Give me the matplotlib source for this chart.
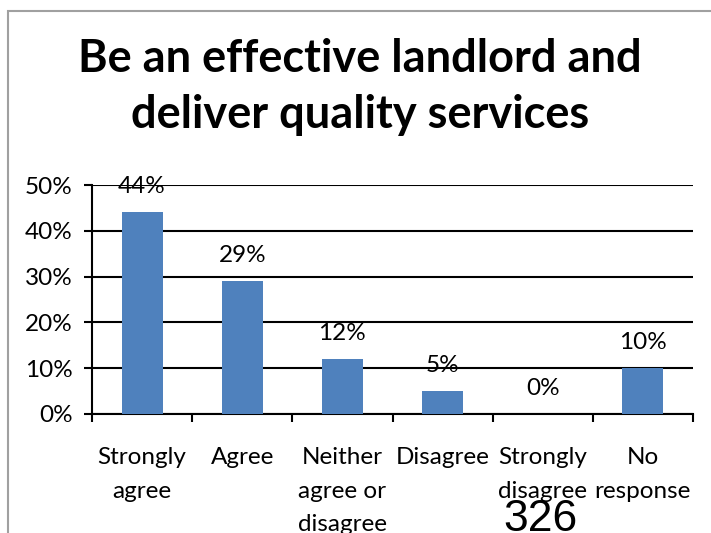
import numpy as np
import matplotlib.pyplot as plt
from matplotlib.patches import Rectangle

# survey responses
categories = ["Strongly\nagree", "Agree", "Neither\nagree or\ndisagree", "Disagree",
              "Strongly\ndisagree", "No\nresponse"]
values = [44, 29, 12, 5, 0, 10]
value_labels = ["44%", "29%", "12%", "5%", "0%", "10%"]
yticks = [0, 10, 20, 30, 40, 50]

plt.rcParams['font.family'] = ['Lato', 'DejaVu Sans']

W, H = 711, 533
fig = plt.figure(figsize=(W / 100, H / 100), dpi=100)

# grey chart border (runs off right and bottom)
fig.patches.append(Rectangle((8 / W, -0.1), 1.2, 1.1 - 11 / H, transform=fig.transFigure,
                             fill=False, edgecolor='#a0a0a0', linewidth=1.5))

ax = fig.add_axes([92 / W, 1 - 414 / H, (693 - 92) / W, (414 - 185) / H])
x = np.arange(len(categories))
ax.bar(x, values, width=0.41, color='#4F81BD', zorder=3)
ax.set_xlim(-0.5, len(categories) - 0.5)
ax.set_ylim(0, 50)

for xi, v, lab in zip(x, values, value_labels):
    ax.annotate(lab, (xi, v), xytext=(0, 11), textcoords='offset points',
                ha='center', va='bottom', fontsize=17.5, color='black')

ax.set_yticks(yticks)
ax.set_yticklabels([f"{t}%" for t in yticks], fontsize=17.5)
ax.yaxis.grid(True, color='black', linewidth=1.5, zorder=0)
ax.tick_params(axis='y', length=6, width=1.5, pad=8)

ax.set_xticks(np.arange(len(categories) + 1) - 0.5, minor=False)
ax.set_xticklabels([])
ax.tick_params(axis='x', length=6, width=1.5, direction='out')
for xi, cat in zip(x, categories):
    ax.text(xi, -7.2, cat, ha='center', va='top', fontsize=17.5, linespacing=1.75,
            transform=ax.transData)

for s in ['top', 'right']:
    ax.spines[s].set_visible(False)
ax.spines['left'].set_linewidth(1.5)
ax.spines['bottom'].set_linewidth(1.5)

fig.text(360 / W, 1 - 87 / H, "Be an effective landlord and\ndeliver quality services",
         ha='center', va='center', fontsize=32.5, fontweight='bold', linespacing=1.44)

fig.text(540 / W, 1 - 499 / H, "326", ha='center', va='top', fontsize=32,
         family='Liberation Sans')

fig.savefig('out.png', dpi=100)
